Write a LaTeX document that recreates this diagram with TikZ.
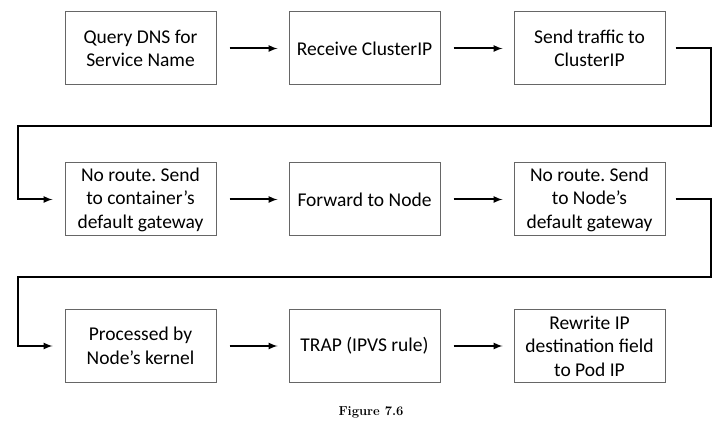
\documentclass[tikz,border=0pt]{standalone}
\usepackage{fontspec}
\newfontfamily\boxfont{Carlito}
\usetikzlibrary{positioning}
\frenchspacing

\begin{document}
\begin{tikzpicture}[x=1pt, y=1pt,
	box/.style={draw=black!60, line width=1pt, minimum width=151pt, minimum height=73pt,
		align=center, inner sep=2pt, font=\boxfont\fontsize{19.5}{23.5}\selectfont},
	flow/.style={line width=2pt, arrows={-latex}, shorten <=13pt, shorten >=11pt},
	link/.style={line width=2pt, arrows={-latex}}]
	\useasboundingbox (0,0) rectangle (723,426);
	% row 1
	\node [box] (query) at (140.5,377.5) {Query DNS for\\Service Name};
	\node [box, right=72pt of query] (receive) {Receive ClusterIP};
	\node [box, right=73pt of receive] (send) {Send traffic to\\ClusterIP};
	% row 2
	\node [box] (noroute) at (140.5,226.5) {No route. Send\\to container’s\\default gateway};
	\node [box, right=72pt of noroute] (forward) {Forward to Node};
	\node [box, right=73pt of forward] (gateway) {No route. Send\\to Node’s\\default gateway};
	% row 3
	\node [box] (kernel) at (140.5,80) {Processed by\\Node’s kernel};
	\node [box, right=72pt of kernel] (trap) {TRAP (IPVS rule)};
	\node [box, right=73pt of trap] (rewrite) {Rewrite IP\\destination field\\to Pod IP};
	% arrows along the rows
	\draw [flow] (query) -- (receive);
	\draw [flow] (receive) -- (send);
	\draw [flow] (noroute) -- (forward);
	\draw [flow] (forward) -- (gateway);
	\draw [flow] (kernel) -- (trap);
	\draw [flow] (trap) -- (rewrite);
	% wrap-around lines
	\coordinate (turn1) at (711,300);
	\coordinate (back1) at (18,300);
	\coordinate (turn2) at (711,149);
	\coordinate (back2) at (18,149);
	\draw [link] ([xshift=10pt]send.east) -| (turn1) -- (back1) |- ([xshift=-12pt]noroute.west);
	\draw [link] ([xshift=10pt]gateway.east) -| (turn2) -- (back2) |- ([xshift=-12pt]kernel.west);
	% caption
	\node (caption) at (371,14) {\fontsize{13}{15}\selectfont\bfseries Figure 7.6};
\end{tikzpicture}
\end{document}
